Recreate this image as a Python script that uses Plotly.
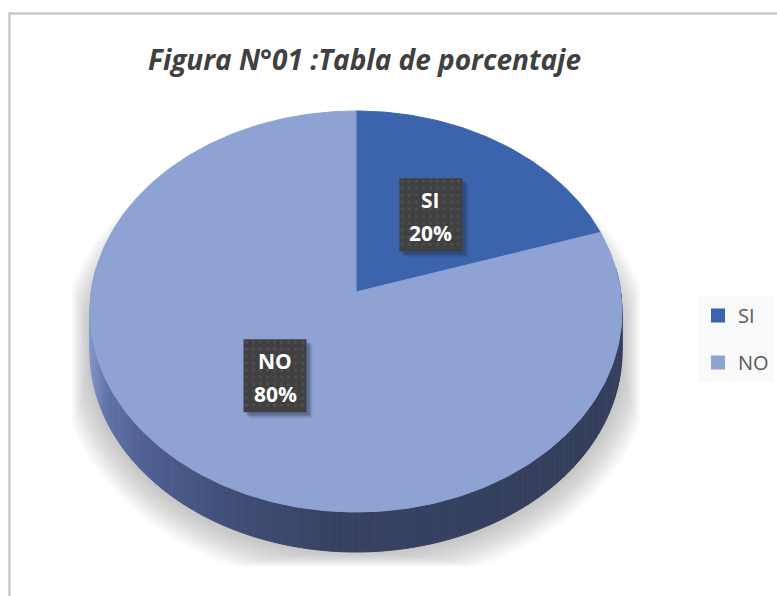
import numpy as np
import plotly.graph_objects as go

# ---- data ----
categories = ["SI", "NO"]
percentages = [20, 80]
title_text = "Figura N°01 :Tabla de porcentaje"
slice_colors = ["#3c64ad", "#8fa2d4"]

# ---- tilted-disc projection (pixels) ----
W, H = 777, 596
APEX_X, APEX_Y = 356, 292
RX, RY, PERSP = 264.7, 198.6, 0.0973
DEPTH = 40
FONT = "Open Sans"


def project(theta, r=1.0, grow_x=0.0, grow_y=0.0):
    """Clockwise angle from 12 o'clock -> pixel position on the tilted disc."""
    u, v = r * np.sin(theta), r * np.cos(theta)
    w = 1 + PERSP * v
    return APEX_X + (RX + grow_x) * u / w, APEX_Y - (RY + grow_y) * v / w


fig = go.Figure()


def poly(xs, ys, color, line=None):
    fig.add_trace(go.Scatter(
        x=list(xs), y=list(ys), mode="lines", fill="toself", fillcolor=color,
        line=dict(color=line or "rgba(0,0,0,0)", width=1 if line else 0),
        hoverinfo="skip", showlegend=False))


# soft shadow below the disc: nested layers, each softly boxed in
full = np.linspace(0, 2 * np.pi, 240)
for g in np.arange(32, -1, -2.0):
    sx, sy = project(full, grow_x=g, grow_y=g)
    poly(np.clip(sx, APEX_X - 266 - 0.56 * g, APEX_X + 266 + 0.56 * g),
         np.clip(sy + 40, None, 552 + 0.47 * g),
         "rgba(110,110,110,0.026)")

# side wall of the disc, shaded by horizontal position
stops_t = [0.0, 0.03, 0.10, 0.25, 0.45, 1.0]
stops_c = np.array([[130, 150, 205], [98, 116, 168], [80, 96, 145],
                    [66, 80, 122], [56, 66, 98], [52, 62, 92]], dtype=float)
edges = np.linspace(np.pi / 2 - 0.12, 3 * np.pi / 2 + 0.12, 130)
for a, b in zip(edges[:-1], edges[1:]):
    seg = np.linspace(a, b, 3)
    x, y = project(seg)
    t = (x.mean() - (APEX_X - 266)) / 532
    rgb = [np.interp(t, stops_t, stops_c[:, i]) for i in range(3)]
    col = "rgb(%d,%d,%d)" % tuple(rgb)
    poly(np.r_[x, x[::-1]], np.r_[y, y[::-1] + DEPTH], col, col)

# top face slices, from the percentages
total = sum(percentages)
start = 0.0
mids = []
for pct, color in zip(percentages, slice_colors):
    span = 2 * np.pi * pct / total
    arc = np.linspace(start, start + span, max(int(pct * 4), 20))
    x, y = project(arc)
    poly(np.r_[APEX_X, x, APEX_X], np.r_[APEX_Y, y, APEX_Y], color, color)
    mids.append(start + span / 2)
    start += span

# data label boxes
BOX_W, BOX_H = 63, 73
annotations = []
for cat, pct, mid in zip(categories, percentages, mids):
    cx, cy = project(mid, r=0.5)
    l, r, t, b = cx - BOX_W / 2, cx + BOX_W / 2, cy - BOX_H / 2, cy + BOX_H / 2
    for off, op in [(6, 0.08), (5, 0.10), (4, 0.14), (3, 0.18)]:
        poly([l + off, r + off, r + off, l + off, l + off],
             [t + off, t + off, b + off, b + off, t + off],
             "rgba(30,40,70,%.2f)" % op)
    poly([l, r, r, l, l], [t, t, b, b, t], "#404040")
    gx, gy = np.meshgrid(np.arange(l + 3, r - 1, 7), np.arange(t + 3, b - 1, 7))
    fig.add_trace(go.Scatter(x=gx.ravel(), y=gy.ravel(), mode="markers",
                             marker=dict(symbol="square", size=3, color="#4d4d4d"),
                             hoverinfo="skip", showlegend=False))
    for txt, dy in [(cat, -15), (f"{pct}%", 18)]:
        annotations.append(dict(x=cx, y=cy + dy, xref="x", yref="y", showarrow=False,
                                text=f"<b>{txt}</b>", align="center",
                                font=dict(family=FONT, size=21, color="white")))

# legend entries
for cat, color in zip(categories, slice_colors):
    fig.add_trace(go.Scatter(x=[None], y=[None], mode="markers", name=cat,
                             legendgroup=cat,
                             marker=dict(symbol="square", size=14, color=color)))

fig.update_layout(
    width=W, height=H, margin=dict(l=0, r=0, t=0, b=0),
    paper_bgcolor="white", plot_bgcolor="white",
    title=dict(text=f"<b><i>{title_text}</i></b>", x=364.5 / W, xanchor="center",
               y=1 - 60 / H, yanchor="middle",
               font=dict(family=FONT, size=28, color="#404040")),
    xaxis=dict(range=[0, W], visible=False, fixedrange=True),
    yaxis=dict(range=[H, 0], visible=False, fixedrange=True),
    legend=dict(x=698 / W, y=1 - 296 / H, xanchor="left", yanchor="top",
                bgcolor="#f9f9f9", tracegroupgap=18, itemwidth=30,
                font=dict(family=FONT, size=20, color="#595959")),
    shapes=[dict(type="rect", xref="x", yref="y", x0=9.5, y0=13.5, x1=W + 20, y1=H + 20,
                 line=dict(color="#c8c8c8", width=2.5))],
    annotations=annotations,
)

fig.write_html("out.html", include_plotlyjs=True,
               config=dict(displayModeBar=False),
               post_script="document.body.style.margin='0';")
